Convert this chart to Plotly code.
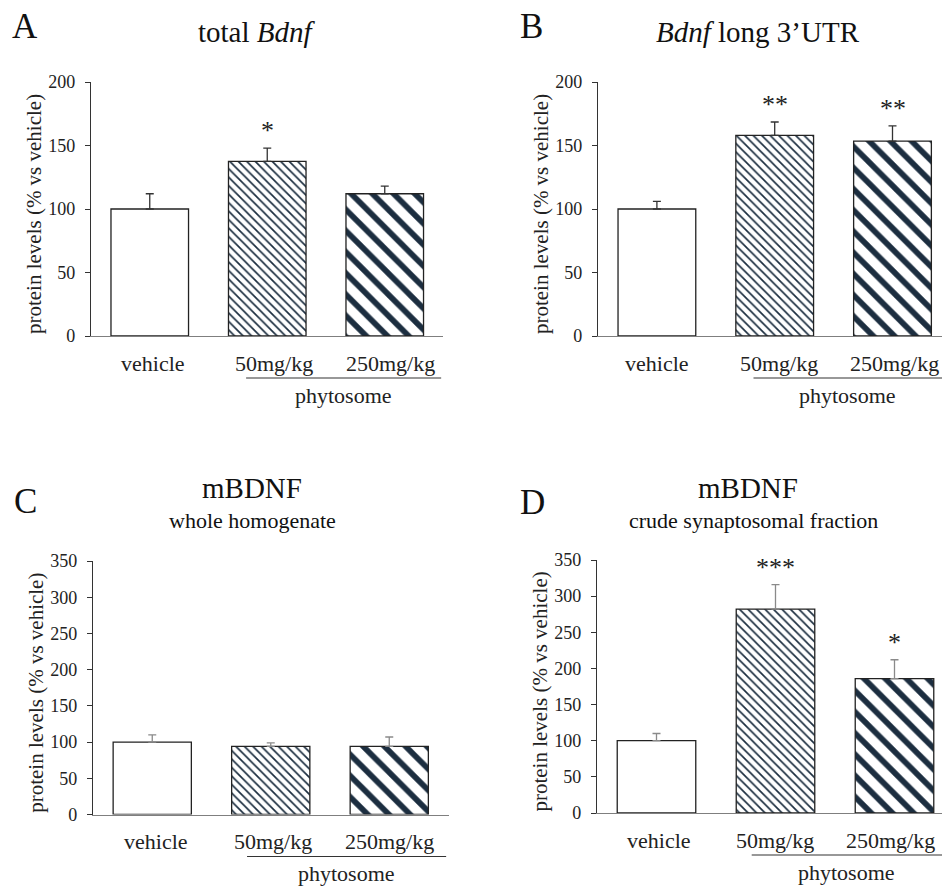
import plotly.graph_objects as go

categories = ["vehicle", "50mg/kg", "250mg/kg"]
group_label = "phytosome"

titles = ["total <i>Bdnf</i>", "<i>Bdnf</i> long 3\u2019UTR", "mBDNF", "mBDNF"]
subtitles = ["", "", "whole homogenate", "crude synaptosomal fraction"]
letters = ["A", "B", "C", "D"]

means_A = [100, 137.5, 112]
errs_A = [12, 10.5, 6]
stars_A = ["", "*", ""]

means_B = [100, 158, 153.5]
errs_B = [6, 10.5, 12]
stars_B = ["", "**", "**"]

means_C = [100, 94, 94]
errs_C = [10, 5, 13]
stars_C = ["", "", ""]

means_D = [100, 282, 186]
errs_D = [10, 34, 26]
stars_D = ["", "***", "*"]

y_max = [200, 200, 350, 350]
y_dtick = [50, 50, 50, 50]

FONT = "Liberation Serif"
W, H = 942, 886

fig = go.Figure()

panels = [
    dict(left=91, spacing=117.5, right=443, y0=336, ytop=82),
    dict(left=598, spacing=117.8, right=942, y0=336, ytop=82),
    dict(left=93, spacing=118.5, right=449, y0=814.5, ytop=561),
    dict(left=597, spacing=119.0, right=942, y0=813, ytop=560),
]
label_shifts = [[3, 7, 6], [0, 4, 2], [4, 2, 0], [2, -1, -4]]

data = [
    (means_A, errs_A, stars_A),
    (means_B, errs_B, stars_B),
    (means_C, errs_C, stars_C),
    (means_D, errs_D, stars_D),
]

err_colors = ["#333333", "#333333", "#8a8a8a", "#8a8a8a"]
patterns = [
    dict(shape=""),
    dict(shape="\\", fgcolor="#1c2e40", bgcolor="white", fgopacity=1, size=6, solidity=0.28),
    dict(shape="\\", fgcolor="#1c2e40", bgcolor="white", fgopacity=1, size=15, solidity=0.38),
]

annotations = []
shapes = []

for i, (p, (means, errs, stars)) in enumerate(zip(panels, data)):
    n = i + 1
    xa = "x" if n == 1 else f"x{n}"
    ya = "y" if n == 1 else f"y{n}"
    xr = -0.5 + (p["right"] - p["left"]) / p["spacing"]
    xdom = [p["left"] / W, min(1.0, p["right"] / W)]
    ydom = [1 - p["y0"] / H, 1 - p["ytop"] / H]

    for j in range(3):
        fig.add_trace(go.Bar(
            x=[j], y=[means[j]],
            width=0.66,
            marker=dict(color="white", line=dict(color="#222222", width=1.3),
                        pattern=patterns[j]),
            error_y=dict(type="data", symmetric=False, array=[errs[j]], arrayminus=[0],
                         color=err_colors[i], thickness=1.3, width=4),
            xaxis=xa, yaxis=ya, showlegend=False, hoverinfo="skip",
        ))
        if stars[j]:
            annotations.append(dict(
                x=j, y=means[j] + errs[j], xref=xa, yref=ya, text=stars[j],
                showarrow=False, yanchor="bottom", yshift=1,
                font=dict(family=FONT, size=26, color="#222222"),
            ))
        annotations.append(dict(
            x=j, y=0, xref=xa, yref=f"{ya} domain", text=categories[j],
            showarrow=False, xanchor="center", yanchor="middle", yshift=-27,
            xshift=label_shifts[i][j],
            font=dict(family=FONT, size=22, color="#222222"),
        ))

    layout_x = dict(domain=xdom, range=[-0.5, xr], showticklabels=False, ticks="",
                    showline=True, linecolor="#7f7f7f", linewidth=1.3, showgrid=False,
                    zeroline=False, fixedrange=True, anchor=ya)
    layout_y = dict(domain=ydom, range=[0, y_max[i]], dtick=y_dtick[i], tick0=0,
                    ticks="outside", ticklen=5, tickcolor="#333333", tickwidth=1.2,
                    showline=True, linecolor="#333333", linewidth=1.3, showgrid=False,
                    zeroline=False, ticklabelstandoff=6,
                    tickfont=dict(family=FONT, size=18, color="#222222"), anchor=xa)
    fig.update_layout(**{("xaxis" if n == 1 else f"xaxis{n}"): layout_x,
                         ("yaxis" if n == 1 else f"yaxis{n}"): layout_y})

    x_line0 = 0.82 if i in (0, 1) else 0.8
    x_line1 = 2.48
    line_y = -(42 / (p["y0"] - p["ytop"]))
    shapes.append(dict(type="line", xref=xa, yref=f"{ya} domain",
                       x0=x_line0, x1=x_line1, y0=line_y, y1=line_y,
                       line=dict(color="#333333", width=1.2)))
    annotations.append(dict(
        x=(x_line0 + min(x_line1, xr)) / 2,
        y=0, xref=xa, yref=f"{ya} domain", text=group_label,
        showarrow=False, xanchor="center", yanchor="middle", yshift=-59,
        font=dict(family=FONT, size=22, color="#222222"),
    ))

    annotations.append(dict(
        x=0, y=0.48, xref=f"{xa} domain", yref=f"{ya} domain",
        text="protein levels (% vs vehicle)", textangle=-90, showarrow=False,
        xanchor="center", yanchor="middle",
        xshift=-57, font=dict(family=FONT, size=21, color="#222222"),
    ))

title_pos = [(257, 32), (758, 32), (252, 488), (748, 488)]
sub_pos = [None, None, (252, 520), (753, 520)]
letter_pos = [(25, 27), (531, 27), (25, 501), (532, 502)]
for i in range(4):
    tx, ty = title_pos[i]
    annotations.append(dict(x=tx / W, y=1 - ty / H, xref="paper", yref="paper",
                            text=titles[i], showarrow=False, xanchor="center", yanchor="middle",
                            font=dict(family=FONT, size=29, color="#111111")))
    if subtitles[i]:
        sx, sy = sub_pos[i]
        annotations.append(dict(x=sx / W, y=1 - sy / H, xref="paper", yref="paper",
                                text=subtitles[i], showarrow=False, xanchor="center", yanchor="middle",
                                font=dict(family=FONT, size=22, color="#111111")))
    lx, ly = letter_pos[i]
    annotations.append(dict(x=lx / W, y=1 - ly / H, xref="paper", yref="paper",
                            text=letters[i], showarrow=False, xanchor="center", yanchor="middle",
                            font=dict(family=FONT, size=35, color="#111111")))

fig.update_layout(
    width=W, height=H,
    margin=dict(l=0, r=0, t=0, b=0, pad=0, autoexpand=False),
    autosize=False,
    font=dict(family=FONT, size=18, color="#222222"),
    paper_bgcolor="white", plot_bgcolor="white",
    barmode="overlay",
    annotations=annotations, shapes=shapes,
    showlegend=False,
)

fig.write_html("out.html", config={"responsive": False})
